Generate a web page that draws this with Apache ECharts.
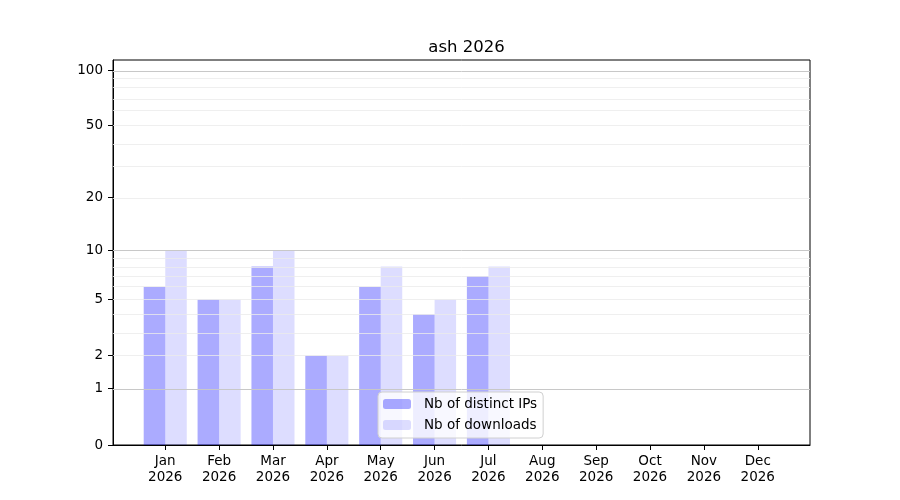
<!DOCTYPE html>
<html style="height: 100%">
<head>
    <meta charset="utf-8">
    <script src="https://cdn.jsdelivr.net/npm/echarts@6/dist/echarts.min.js"></script>
</head>
<body style="height: 100%; margin: 0; background: #fff">
    <div id="main" style="width: 900px; height: 500px;"></div>
    <script type="text/javascript">
    // data
    var months = ['Jan', 'Feb', 'Mar', 'Apr', 'May', 'Jun', 'Jul', 'Aug', 'Sep', 'Oct', 'Nov', 'Dec'];
    var year = '2026';
    var distinctIPs = [6, 5, 8, 2, 6, 4, 7];
    var downloads = [10, 5, 10, 2, 8, 5, 8];
    var yTicks = [0, 1, 2, 5, 10, 20, 50, 100];
    var majorGrid = [1, 10, 100];
    var minorGrid = [2, 3, 4, 5, 6, 7, 8, 9, 20, 30, 40, 50, 60, 70, 80, 90];

    // y scale is log10(1 + v)
    function tr(v) { return Math.log10(1 + v); }
    function untr(v) { return Math.round(Math.pow(10, v) - 1); }

    var font = 'DejaVu Sans';
    var myChart = echarts.init(document.getElementById('main'));

    var gridLines = [];
    minorGrid.forEach(function (v) {
        gridLines.push({ yAxis: tr(v), lineStyle: { color: '#ebebeb', width: 0.8, type: 'solid' } });
    });
    majorGrid.forEach(function (v) {
        gridLines.push({ yAxis: tr(v), lineStyle: { color: '#c8c8c8', width: 1, type: 'solid' } });
    });

    var option = {
        animation: false,
        backgroundColor: '#fff',
        title: {
            text: 'ash ' + year,
            left: 461.5,
            textAlign: 'center',
            top: 34,
            textStyle: { fontFamily: font, fontSize: 16.5, fontWeight: 'normal', color: '#000' }
        },
        legend: {
            data: ['Nb of distinct IPs', 'Nb of downloads'],
            orient: 'vertical',
            left: 378,
            top: 392,
            itemWidth: 28,
            itemHeight: 10,
            itemGap: 7,
            padding: [5, 6, 6, 5],
            backgroundColor: 'rgba(255,255,255,0.8)',
            borderColor: '#d0d0d0',
            borderWidth: 1,
            borderRadius: 4,
            textStyle: { fontFamily: font, fontSize: 13.5, color: '#000', padding: [0, 0, 0, 8] }
        },
        grid: {
            left: 113, right: 90, top: 60, bottom: 55,
            show: true, borderColor: '#000', borderWidth: 1
        },
        xAxis: {
            type: 'value',
            min: -0.97,
            max: 11.97,
            splitLine: { show: false },
            axisLine: { onZero: false, lineStyle: { color: '#000' } },
            axisTick: { customValues: months.map(function (m, i) { return i; }), length: 5, lineStyle: { color: '#000' } },
            axisLabel: {
                customValues: months.map(function (m, i) { return i; }),
                formatter: function (v) { return months[Math.round(v)] + '\n' + year; },
                fontFamily: font, fontSize: 13.5, color: '#000', lineHeight: 16, margin: 8
            }
        },
        yAxis: {
            type: 'value',
            min: 0,
            max: 2.058,
            splitLine: { show: false },
            axisLine: { show: true, onZero: false, lineStyle: { color: '#000' } },
            axisTick: { show: true, customValues: yTicks.map(tr), length: 5, lineStyle: { color: '#000' } },
            axisLabel: {
                customValues: yTicks.map(tr),
                formatter: function (v) { return String(untr(v)); },
                fontFamily: font, fontSize: 13.5, color: '#000', margin: 10
            }
        },
        series: [{
            name: 'grid',
            type: 'line',
            data: [],
            z: 1,
            silent: true,
            markLine: {
                silent: true,
                symbol: 'none',
                label: { show: false },
                animation: false,
                data: gridLines
            }
        }, {
            name: 'Nb of distinct IPs',
            type: 'bar',
            z: 2,
            barWidth: '40%',
            barGap: '0%',
            itemStyle: { color: 'rgba(0,0,255,0.33)' },
            data: distinctIPs.map(function (v, i) { return [i, tr(v)]; })
        }, {
            name: 'Nb of downloads',
            type: 'bar',
            z: 2,
            barWidth: '40%',
            barGap: '0%',
            itemStyle: { color: 'rgba(0,0,255,0.135)' },
            data: downloads.map(function (v, i) { return [i, tr(v)]; })
        }]
    };

    myChart.setOption(option);
    </script>
</body>
</html>
